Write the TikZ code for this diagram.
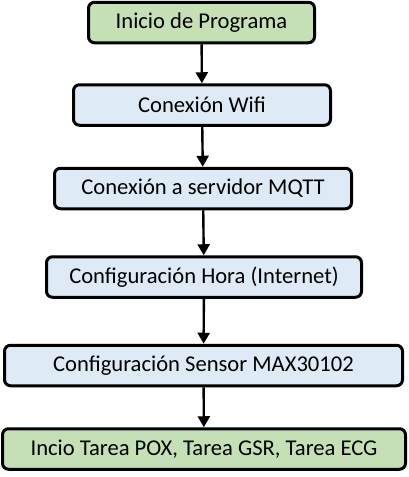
\documentclass[tikz,border=0pt]{standalone}
\usepackage{fontspec}
\setmainfont{Carlito}
\usetikzlibrary{arrows.meta}
\definecolor{verde}{HTML}{C5E0B4}
\definecolor{azul}{HTML}{DEEBF7}
\begin{document}
\begin{tikzpicture}[x=1pt,y=-1pt,
    paso/.style={draw=black,line width=3pt,rounded corners=6pt,fill=azul,
      minimum height=40.5pt,inner sep=0pt,font=\fontsize{22.6}{26}\selectfont},
    pasoverde/.style={paso,fill=verde},
    flecha/.style={line width=2.4pt,-{Triangle[length=11pt,width=12pt]}}]
    \useasboundingbox (0,0) rectangle (408,477);
    \node [pasoverde,minimum width=226pt] (inicio) at (201.5,22.5) {Inicio de Programa};
    \node [paso,minimum width=257pt] (wifi) at (202,105) {Conexión Wifi};
    \node [paso,minimum width=297pt] (mqtt) at (203,188.5) {Conexión a servidor MQTT};
    \node [paso,minimum width=315pt] (hora) at (204,277) {Configuración Hora (Internet)};
    \node [paso,minimum width=398pt] (sensor) at (203.5,365.5) {Configuración Sensor MAX30102};
    \node [pasoverde,minimum width=403pt] (tareas) at (204,449) {Incio Tarea POX, Tarea GSR, Tarea ECG};
    \draw [flecha] (inicio) -- (wifi);
    \draw [flecha] (wifi) -- (mqtt);
    \draw [flecha] (mqtt) -- (hora);
    \draw [flecha] (hora) -- (sensor);
    \draw [flecha] (sensor) -- (tareas);
\end{tikzpicture}
\end{document}
